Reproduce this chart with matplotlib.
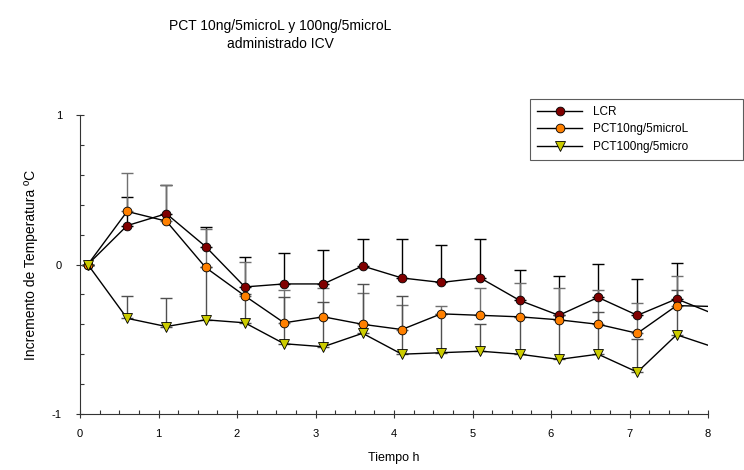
import numpy as np
import matplotlib
matplotlib.use('Agg')
import matplotlib.pyplot as plt
from matplotlib.ticker import MultipleLocator

plt.rcParams['font.family'] = ['Liberation Sans', 'DejaVu Sans']
plt.rcParams['axes.unicode_minus'] = False

# tiempo (h); last point is the line end without marker
tiempo = [0.1, 0.6, 1.1, 1.6, 2.1, 2.6, 3.1, 3.6, 4.1, 4.6, 5.1, 5.6, 6.1, 6.6, 7.1, 7.6, 8.0]

lcr = [0.0, 0.26, 0.34, 0.12, -0.15, -0.13, -0.13, -0.01, -0.09, -0.12,
       -0.09, -0.24, -0.34, -0.22, -0.34, -0.23, -0.315]
lcr_err = [0.0, 0.19, 0.195, 0.13, 0.20, 0.21, 0.225, 0.18, 0.26, 0.25,
           0.26, 0.205, 0.26, 0.225, 0.24, 0.24]

pct10 = [0.0, 0.355, 0.29, -0.02, -0.21, -0.39, -0.35, -0.40, -0.435, -0.33,
         -0.34, -0.35, -0.37, -0.40, -0.46, -0.275, -0.28]
pct10_err = [0.0, 0.255, 0.245, 0.255, 0.23, 0.22, 0.19, 0.21, 0.165, 0.055,
             0.185, 0.225, 0.215, 0.23, 0.205, 0.195]

pct100 = [0.0, -0.36, -0.415, -0.37, -0.39, -0.53, -0.55, -0.46, -0.60, -0.59,
          -0.58, -0.60, -0.635, -0.60, -0.72, -0.47, -0.54]
pct100_err = [0.0, 0.15, 0.19, 0.35, 0.19, 0.31, 0.30, 0.33, 0.39, 0.26,
              0.18, 0.25, 0.30, 0.28, 0.22, 0.30]

etiquetas = ['LCR', 'PCT10ng/5microL', 'PCT100ng/5micro']

fig = plt.figure(figsize=(7.44, 4.70), dpi=100)
ax = fig.add_axes([80/744., 1-414/470., 628/744., 299/470.])

series = [
    (lcr, lcr_err, 'o', '#800000', 'black', 6.3),
    (pct10, pct10_err, 'o', '#FF8000', '#707070', 6.3),
    (pct100, pct100_err, 'v', '#CCCC00', '#505050', 7),
]

handles = []
for (vals, err, mk, col, ecol, ms) in series:
    n = len(err)
    ax.errorbar(tiempo[:n], vals[:n], yerr=[np.zeros(n), err], fmt='none',
                ecolor=ecol, elinewidth=1, capsize=4, capthick=1, zorder=2)
    ln, = ax.plot(tiempo, vals, color='black', lw=1, marker=mk,
                  markevery=list(range(n)), markersize=ms,
                  markerfacecolor=col, markeredgecolor='black',
                  markeredgewidth=0.6, zorder=3)
    handles.append(ln)

ax.set_xlim(0, 8)
ax.set_ylim(-1, 1)
ax.xaxis.set_major_locator(MultipleLocator(1))
ax.xaxis.set_minor_locator(MultipleLocator(0.25))
ax.yaxis.set_major_locator(MultipleLocator(1))
ax.yaxis.set_minor_locator(MultipleLocator(0.2))
ax.tick_params(which='major', direction='inout', length=6, width=0.8,
               labelsize=8, colors='#333333', labelcolor='black')
ax.tick_params(which='minor', direction='in', length=3, width=0.8,
               colors='#333333')
ax.tick_params(axis='x', pad=8)
ax.tick_params(axis='y', pad=10)
for s in ['top', 'right']:
    ax.spines[s].set_visible(False)
for s in ['left', 'bottom']:
    ax.spines[s].set_color('#333333')
    ax.spines[s].set_linewidth(0.8)

ax.set_xlabel('Tiempo h', fontsize=9, labelpad=9)
ax.set_ylabel('Incremento de Temperatura ºC', fontsize=10, labelpad=10)

fig.text(280/744., 1-35/470., 'PCT 10ng/5microL y 100ng/5microL\nadministrado ICV',
         ha='center', va='center', fontsize=10, linespacing=1.3)

leg = ax.legend(handles, etiquetas, loc='upper left',
                bbox_to_anchor=(530/744., 1-160/470., 213/744., 61/470.),
                bbox_transform=fig.transFigure, mode='expand',
                fontsize=8.5, frameon=True, fancybox=False, handlelength=3.8,
                handletextpad=0.9, borderaxespad=0, labelspacing=0.45,
                borderpad=0.6)
leg.get_frame().set_edgecolor('#333333')
leg.get_frame().set_linewidth(0.8)

fig.savefig('out.png', dpi=100)
